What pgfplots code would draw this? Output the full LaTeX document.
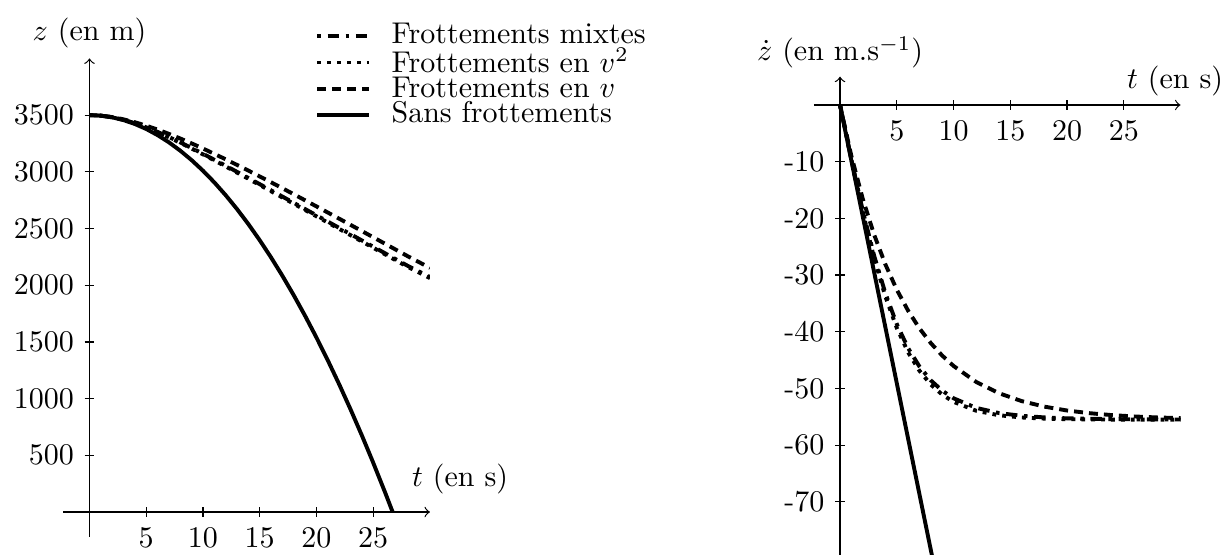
\documentclass[border=0pt]{standalone}
\usepackage{pgfplots}
\pgfplotsset{compat=1.18}
\begin{document}
\begin{tikzpicture}
\useasboundingbox (-29.83pt,-14pt) rectangle (379.83pt,170.67pt);
\pgfplotsset{
  mystyle/.style={axis lines=middle, axis line style={->, line width=0.4pt}, x=3.7833pt, xmin=-2.3, xmax=30,
    xtick={5,10,15,20,25}, xticklabels={5,10,15,20,25}, tick style={black, line width=0.4pt}, major tick length=3.3pt},
  c1/.style={black, line width=1.3pt, dash pattern=on 1.2pt off 2.2pt on 3.8pt off 2.2pt},
  c2/.style={black, line width=1.3pt, dash pattern=on 1.3pt off 2pt},
  c3/.style={black, line width=1.3pt, dash pattern=on 3pt off 2pt},
  c4/.style={black, line width=1.3pt, solid},
}
\begin{axis}[mystyle, at={(0pt,0pt)}, anchor=origin, y=0.0378pt, ymin=-220, ymax=4000,
  ytick={500,1000,1500,2000,2500,3000,3500}, yticklabels={500,1000,1500,2000,2500,3000,3500},
  every axis x label/.style={at={(axis description cs:1.082,0.0669)}, anchor=south},
  every axis y label/.style={at={(axis description cs:0.0712,1.0)}, anchor=south},
  xlabel={$t$ (en s)}, ylabel={$z$ (en m)},
  legend style={draw=none, fill=none, at={(axis description cs:0.686,1.075)}, anchor=north west,
    inner sep=0pt, row sep=0pt, nodes={inner sep=0pt}, column sep=7pt},
  legend cell align=left]
\addplot[c1] coordinates {(0,3500)(1,3495.1)(2,3481.0)(3,3458.3)(4,3428.3)(5,3392.2)(6,3351.4)(7,3306.9)(8,3259.4)(9,3209.9)(10,3158.8)(12,3053.5)(14,2945.6)(16,2836.4)(18,2726.5)(20,2616.1)(22,2505.5)(24,2394.7)(26,2283.9)(28,2173.0)(30,2072.1)};
\addplot[c2] coordinates {(0,3500)(1,3495.1)(2,3480.8)(3,3457.8)(4,3427.3)(5,3390.6)(6,3349.1)(7,3303.8)(8,3255.6)(9,3205.4)(10,3153.6)(12,3047.2)(14,2938.4)(16,2828.5)(18,2718.1)(20,2607.4)(22,2496.5)(24,2385.5)(26,2274.6)(28,2163.6)(30,2062.6)};
\addplot[c3] coordinates {(0,3500)(1,3495.4)(2,3482.5)(3,3462.7)(4,3437.2)(5,3406.7)(6,3372.3)(7,3334.4)(8,3293.6)(9,3250.5)(10,3205.4)(12,3110.3)(14,3010.6)(16,2907.4)(18,2802.0)(20,2694.8)(22,2586.6)(24,2477.5)(26,2367.8)(28,2257.8)(30,2152.4)};
\addplot[c4] coordinates {(0,3500)(1,3495.1)(2,3480.4)(3,3455.9)(4,3421.5)(5,3377.4)(6,3323.4)(7,3259.7)(8,3186.1)(9,3102.7)(10,3009.5)(11,2906.5)(12,2793.7)(13,2671.1)(14,2538.6)(15,2396.4)(16,2244.3)(17,2082.5)(18,1910.8)(19,1729.3)(20,1538.0)(21,1336.9)(22,1126.0)(23,905.3)(24,674.7)(25,434.4)(26,184.3)(26.71,0)};
\legend{Frottements mixtes, Frottements en $v^2$, Frottements en $v$, Sans frottements}
\end{axis}
\begin{axis}[mystyle, at={(250.17pt,135.67pt)}, anchor=origin, y=1.89pt, ymin=-79.4, ymax=5,
  ytick={-70,-60,-50,-40,-30,-20,-10}, yticklabels={-70,-60,-50,-40,-30,-20,-10},
  every axis x label/.style={at={(axis description cs:0.985,0.938)}, anchor=south},
  every axis y label/.style={at={(axis description cs:0.0712,0.995)}, anchor=south},
  xlabel={$t$ (en s)}, ylabel={$\dot{z}$ (en m.s$^{-1}$)}]
\addplot[c1] coordinates {(0,0)(1,-9.64)(2,-18.61)(3,-26.54)(4,-33.22)(5,-38.64)(6,-42.89)(7,-46.13)(8,-48.57)(9,-50.38)(10,-51.72)(12,-53.42)(14,-54.33)(16,-54.82)(18,-55.10)(20,-55.26)(22,-55.34)(24,-55.40)(26,-55.44)(28,-55.46)(30,-55.47)};
\addplot[c2] coordinates {(0,0)(1,-9.71)(2,-18.84)(3,-26.95)(4,-33.79)(5,-39.31)(6,-43.62)(7,-46.88)(8,-49.30)(9,-51.07)(10,-52.35)(12,-53.93)(14,-54.72)(16,-55.11)(18,-55.31)(20,-55.41)(22,-55.45)(24,-55.48)(26,-55.49)(28,-55.50)(30,-55.50)};
\addplot[c3] coordinates {(0,0)(1,-8.99)(2,-16.53)(3,-22.84)(4,-28.13)(5,-32.57)(6,-36.28)(7,-39.40)(8,-42.00)(9,-44.19)(10,-46.02)(12,-48.85)(14,-50.83)(16,-52.22)(18,-53.20)(20,-53.88)(22,-54.36)(24,-54.70)(26,-54.94)(28,-55.11)(30,-55.22)};
\addplot[c4] coordinates {(0,0)(8.094,-79.4)};
\end{axis}
\end{tikzpicture}
\end{document}
